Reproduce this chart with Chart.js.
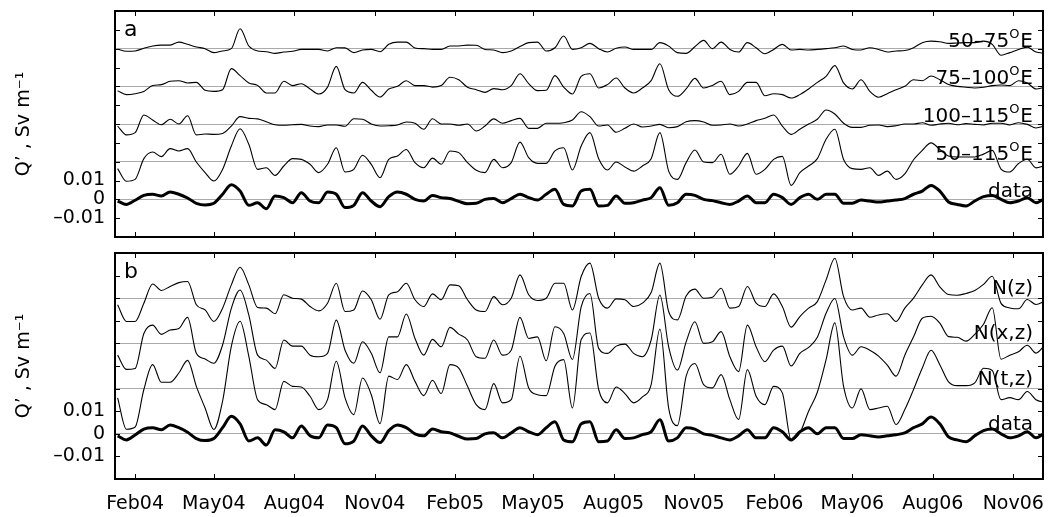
<!doctype html>
<html>
<head>
<meta charset="UTF-8">
<title>Q' anomalies 2004-2006</title>
<script src="https://cdn.jsdelivr.net/npm/chart.js@4.4.1/dist/chart.umd.min.js"></script>
<style>
  body { margin: 0; background: #fff; }
  #wrap { position: relative; width: 1052px; height: 517px; }
  canvas { position: absolute; left: 0; }
  #ca { top: 0; }
  #cb { top: 245px; }
</style>
</head>
<body>
<div id="wrap">
  <canvas id="ca" width="1052" height="245"></canvas>
  <canvas id="cb" width="1052" height="272"></canvas>
</div>
<script>
// sample dates: days since 1 Feb 2004, every 10 days
var startDay = -20, stepDays = 10, nSamples = 107;
var days = [];
for (var i = 0; i < nSamples; i++) days.push(startDay + i * stepDays);

// x axis ticks (days since 1 Feb 2004)
var tickDays = [0, 90, 182, 274, 366, 455, 547, 639, 731, 820, 912, 1004];
var tickLabels = ['Feb04', 'May04', 'Aug04', 'Nov04', 'Feb05', 'May05', 'Aug05', 'Nov05', 'Feb06', 'May06', 'Aug06', 'Nov06'];

// Q' in units of 1e-3 Sv/m
var qData = [-0.9,-2.7,-0.5,2.1,2.7,1.8,3.9,2.7,0.7,-2.1,-3.0,-2.1,2.7,7.8,4.4,-3.2,-1.8,-5.0,1.8,0.9,-1.8,3.5,-0.9,-1.8,3.9,2.7,-4.4,-3.2,3.5,-0.9,-3.9,1.4,3.9,2.7,0,-0.9,2.1,0.9,0.4,-1.1,-2.3,-2.1,0,0.5,-1.8,0.4,2.7,0.9,-0.4,2.7,5.3,-2.7,-3.5,4.4,5.3,-3.5,-3.2,1.8,-2.1,-1.8,-0.4,0.9,6.2,-3.2,-1.8,2.7,2.1,0,-0.7,-1.8,-2.7,-0.9,1.8,-1.8,-1.8,2.7,0.9,-2.7,0.9,2.7,0,2.7,2.7,-2.1,-2.1,-0.4,-0.9,-1.4,-0.9,-0.4,0.4,2.7,4.4,7.4,4.4,-1.4,-2.7,-3.5,-0.9,1.4,2.1,0,-1.8,-0.9,0.9,-1.8,0.4];

var q50to75 = [-0.3,-1.4,-1.2,0.2,1.4,1.9,1.9,3.5,2.3,0.9,0,-2.1,-1.2,0,10.6,1.4,-1.2,-1.6,-2.5,-1.8,-1.4,-0.4,-0.4,-0.4,-1.2,0.5,0.4,-2.1,-0.7,-0.4,-1.6,2.3,3.5,3.5,0.4,0,-0.4,-0.4,1.4,1.4,1.9,1.8,-0.4,-0.7,-2.1,-1.2,1.1,3.2,3.5,-1.2,0.5,6.7,-0.4,0.5,2.8,0,-1.8,0.2,0.9,-0.4,-0.4,-0.4,3.2,1.4,-2.1,-2.5,1.0,4.4,0,3.5,-0.4,-1.8,3.2,0.5,-2.7,-0.4,2.3,-0.7,-0.4,-0.7,-0.4,0,0.5,1.4,-0.4,-0.7,0.5,-0.4,-1.8,-1.2,-1.0,0.5,3.2,4.0,3.7,2.8,3.0,3.2,3.2,4.0,2.3,-3.5,-2.1,-0.4,0.8,-1.8,-2.5];

var q75to100 = [-2.3,-4.4,-3.9,-2.7,0.4,0.9,2.7,3.0,1.8,2.1,-2.1,-2.7,-1.8,9.4,5.7,1.8,0.5,-3.5,-3.5,2.7,0.4,1.4,-1.4,-4.1,-0.4,10.6,-1.8,-3.5,2.1,-2.1,-5.7,-1.4,0,3.0,0.4,0.4,-0.4,0.4,4.8,3.5,-0.5,-1.8,-3.2,-1.2,-1.8,0.4,6.7,1.4,-2.3,-2.1,5.7,-0.4,-4.1,5.3,6.7,-0.9,0.9,4.4,-0.9,-3.5,-0.9,3.0,12.0,-1.8,-5.3,-1.4,4.2,-0.9,0.5,2.7,-4.4,-2.7,2.1,2.1,-5.0,-3.9,-4.4,-6.2,-4.4,-1.4,2.1,5.3,11.0,1.8,-1.4,3.5,-2.7,-5.8,-3.9,-1.8,0,3.5,3.0,5.5,3.5,1.0,0,-0.5,-0.9,-0.5,0.4,0.7,0.4,3.0,1.8,-1.4,-0.5];

var q100to115 = [-1.1,-5.8,-4.6,4.8,2.1,-0.4,2.5,0,4.4,-5.8,-5.3,-5.5,-5.0,-1.1,3.9,3.0,2.7,1.2,-0.4,-0.7,-0.4,-0.2,-1.1,-1.4,-0.5,-0.5,-1.2,2.8,2.5,0,-1.1,-0.9,-0.5,1.1,0.4,-2.8,2.8,0,0,-0.7,0,-3.7,-1.1,2.7,0.4,1.8,3.0,-2.3,-2.3,0.4,0.4,0.7,2.1,6.5,3.9,-1.1,-0.5,-4.4,-2.3,0,-1.6,-1.1,-0.2,-2.0,-1.4,1.2,1.8,1.1,-0.7,-0.5,0,-1.1,0,1.8,3.0,4.8,-1.1,-5.5,-2.8,0,2.5,7.4,5.3,0.4,-1.8,-1.8,-0.7,-0.5,-1.4,-0.9,0,0,0.7,-0.7,0,0.4,-0.4,0.2,-0.2,-0.5,0.4,0.4,-0.5,0.7,-0.2,-2.1,-1.1];

var q50to115 = [-3.7,-10.4,-9.4,1.6,5.1,2.7,6.9,5.7,6.9,-0.2,-5.8,-10.3,-4.1,8.3,17.5,9.2,-4.1,-3.2,-7.3,-2.3,1.6,1.2,-1.4,-5.8,-1.4,7.4,-5.5,-4.1,3.4,-1.4,-8.5,1.2,3.0,6.5,-0.5,-3.2,1.9,-1.4,5.7,4.8,-0.5,-4.6,-5.8,1.2,-3.2,-0.5,10.4,2.1,-0.9,-0.9,5.7,7.4,-4.4,8.3,15.4,1.6,-4.4,-0.2,-2.8,-5.0,-2.3,1.6,15.4,-5.0,-9.4,-0.5,6.2,-0.2,-0.5,3.9,-6.7,-2.3,4.4,-6.7,-4.1,1.2,2.8,-12.6,-5.8,-2.3,1.6,11.9,17.2,1.2,-3.7,-4.1,-3.2,-7.3,-5.0,-9.4,-6.5,1.0,6.0,10.0,6.5,3.0,2.5,2.5,2.5,4.0,6.0,-3.9,-5.5,-1.0,1.3,-3.3,-2.0];

var qNz = [-2.9,-10.3,-10.3,-2.2,6.3,3.4,5.2,6.9,7.4,-2.9,-5.2,-10.3,-4.4,5.9,13.7,5.9,-4.1,-4.4,-6.9,1.5,0,-0.4,-3.7,-5.6,-2.2,6.6,-5.9,-5.2,3.2,-0.7,-9.3,1.5,2.9,6.6,-0.7,-3.7,1.9,-0.7,5.9,5.5,-0.7,-5.2,-5.9,0.7,-2.9,0,10.3,1.5,-1.0,0,6.6,6.6,-5.2,9.6,15.5,0,-4.4,-0.3,-0.7,-3.7,-2.2,2.5,15.5,-5.9,-9.6,1.0,4.0,0,0.4,4.4,-4.4,-3.7,5.2,-2.2,-3.7,1.9,-3.7,-12.8,-8.1,-4.4,-1.5,8.1,17.7,0.7,-5.2,-4.4,-8.4,-7.4,-6.9,-10.3,-4.4,0,5.9,10.3,5.0,1.6,1.3,2.1,3.4,6.1,9.7,-2.3,-4.3,-4.7,-0.6,-2.8,-1.3];

var qNxz = [-5.2,-11.5,-11.1,4.4,8.1,4.0,5.9,6.6,11.5,-4.4,-6.9,-8.8,-0.7,15.5,23.6,12.5,-5.2,-7.4,-11.1,1.5,-1.2,-1.2,-5.2,-5.9,-4.4,10.3,-3.0,-8.8,0.7,-4.4,-13.0,2.9,2.9,13.0,2.2,-5.2,1.8,-1.5,7.1,4.1,1.5,-5.9,-6.6,1.5,-5.2,-3.0,11.5,2.2,2.9,-7.7,7.4,4.4,-7.1,16.2,22.1,-2.2,-4.4,-1.2,-0.3,-4.4,-5.9,1.5,21.4,-1.5,-11.8,0.7,9.6,0,0.7,5.2,-5.9,-12.5,8.1,-1.5,-8.1,-3.0,-1.2,-10.0,-4.4,-1.8,2.7,13.3,19.9,2.9,-5.2,-1.5,-3.0,-5.6,-9.6,-14.5,-5.2,2.9,11.1,12.0,9.0,3.0,2.7,1.0,4.0,8.5,15.8,-7.0,-5.2,-3.7,-0.8,-4.3,-0.8];

var qNtz = [-4.1,-18.0,-17.0,-0.4,10.6,2.8,2.8,6.9,12.5,1.0,-8.6,-18.1,-5.6,18.7,29.8,14.3,-4.9,-7.1,-9.3,3.2,1.0,0.7,-3.4,-9.3,-4.9,12.1,-4.1,-11.5,4.7,-2.7,-15.5,5.5,4.0,10.6,3.2,-3.1,3.7,-2.2,10.6,9.1,1.0,-7.1,-9.3,2.2,-6.3,-4.9,14.3,0.3,-2.7,-3.1,9.9,12.8,-8.6,21.7,24.6,-0.4,-6.3,0.7,-2.2,-6.3,-3.7,1.8,26.4,-8.6,-16.4,5.5,11.1,1.8,0.3,6.2,-4.9,-13.7,8.4,-3.4,-7.1,1.0,-1.9,-22.6,-19.6,-10.0,-1.6,12.8,29.1,1.0,-8.6,-0.1,-9.3,-8.6,-7.8,-15.9,-9.3,-0.4,9.1,17.0,10.6,3.0,1.3,1.3,2.5,9.0,8.0,-4.9,-4.0,-4.9,-1.3,-4.9,-6.2];

var fontName = '"DejaVu Sans", sans-serif';

function points(arr, off) {
  return days.map(function (d, k) { return { x: d, y: arr[k] + off }; });
}

function makeSets(series, offsets, thick) {
  return series.map(function (s, k) {
    return {
      data: points(s, offsets[k]),
      borderColor: '#000',
      borderWidth: thick[k] ? 3 : 1.1,
      pointRadius: 0,
      cubicInterpolationMode: 'monotone',
      fill: false
    };
  });
}

// frame, inward ticks, panel letter and series names
var framePlugin = {
  id: 'frame',
  afterDraw: function (chart, args, opts) {
    var ctx = chart.ctx, a = chart.chartArea;
    var xs = chart.scales.x, ys = chart.scales.y;
    ctx.save();
    ctx.strokeStyle = '#000';
    ctx.lineWidth = 1;
    ctx.beginPath();
    tickDays.forEach(function (d) {
      var px = Math.round(xs.getPixelForValue(d)) + 0.5;
      ctx.moveTo(px, a.bottom); ctx.lineTo(px, a.bottom - 5);
      ctx.moveTo(px, a.top); ctx.lineTo(px, a.top + 5);
    });
    ys.ticks.forEach(function (t) {
      if (t.value <= ys.min || t.value >= ys.max) return;
      var py = Math.round(ys.getPixelForValue(t.value)) + 0.5;
      ctx.moveTo(a.left, py); ctx.lineTo(a.left + 5, py);
      ctx.moveTo(a.right, py); ctx.lineTo(a.right - 5, py);
    });
    ctx.stroke();
    ctx.lineWidth = 2;
    ctx.strokeRect(a.left, a.top, a.right - a.left, a.bottom - a.top);

    ctx.fillStyle = '#000';
    ctx.textBaseline = 'alphabetic';
    ctx.textAlign = 'left';
    ctx.font = '22px ' + fontName;
    ctx.fillText(opts.letter, a.left + 9, a.top + 25);

    opts.names.forEach(function (n, k) {
      var yb = ys.getPixelForValue(opts.offsets[k]) - opts.lift;
      var xr = a.right - 10;
      ctx.font = '20px ' + fontName;
      if (n.deg) {
        var wE = ctx.measureText('E').width;
        var wT = ctx.measureText(n.text).width;
        ctx.font = '13px ' + fontName;
        var wO = ctx.measureText('O').width;
        ctx.fillText('O', xr - wE - wO - 1, yb - 9);
        ctx.font = '20px ' + fontName;
        ctx.fillText('E', xr - wE, yb);
        ctx.fillText(n.text, xr - wE - wO - 1 - wT, yb);
      } else {
        ctx.textAlign = 'right';
        ctx.fillText(n.text, xr, yb);
        ctx.textAlign = 'left';
      }
    });
    ctx.restore();
  }
};

function yLabel(v) {
  if (v === 10) return '0.01';
  if (v === 0) return '0';
  if (v === -10) return '\u20130.01';
  return '';
}

function makeChart(id, opt) {
  return new Chart(document.getElementById(id).getContext('2d'), {
    type: 'line',
    data: { datasets: opt.sets },
    plugins: [framePlugin],
    options: {
      responsive: false,
      animation: false,
      devicePixelRatio: 1,
      layout: { padding: opt.padding },
      plugins: {
        legend: { display: false },
        tooltip: { enabled: false },
        frame: opt.frame
      },
      scales: {
        x: {
          type: 'linear',
          min: -23,
          max: 1038,
          display: opt.showX,
          grid: { display: false },
          border: { display: false },
          afterBuildTicks: function (s) {
            s.ticks = tickDays.map(function (v) { return { value: v }; });
          },
          afterFit: function (s) {
            if (opt.showX) s.height = 38;
          },
          ticks: {
            autoSkip: false,
            maxRotation: 0,
            padding: 6,
            color: '#000',
            font: { family: fontName, size: 19 },
            callback: function (v) { return tickLabels[tickDays.indexOf(v)]; }
          }
        },
        y: {
          min: -20,
          max: opt.yMax,
          afterFit: function (s) {
            s.width = 115;
            s.paddingTop = 0;
            s.paddingBottom = 0;
          },
          border: { display: false },
          grid: {
            drawTicks: false,
            lineWidth: 1,
            color: function (c) {
              return opt.frame.offsets.indexOf(c.tick.value) >= 0 ? '#aaaaaa' : 'rgba(0,0,0,0)';
            }
          },
          ticks: {
            stepSize: 10,
            autoSkip: false,
            padding: 10,
            color: '#000',
            font: { family: fontName, size: 19 },
            callback: yLabel
          },
          title: {
            display: true,
            text: 'Q\u2019 , Sv m\u207B\u00B9',
            color: '#000',
            font: { family: fontName, size: 19 },
            padding: { top: 13, bottom: 0 }
          }
        }
      }
    }
  });
}

var offsetsA = [80, 60, 40, 20, 0];
makeChart('ca', {
  sets: makeSets([q50to75, q75to100, q100to115, q50to115, qData], offsetsA, [0, 0, 0, 0, 1]),
  padding: { top: 11, bottom: 8, left: 0, right: 9 },
  showX: false,
  yMax: 100,
  frame: {
    letter: 'a',
    offsets: offsetsA,
    lift: 2,
    names: [
      { text: '50\u201375', deg: true },
      { text: '75\u2013100', deg: true },
      { text: '100\u2013115', deg: true },
      { text: '50\u2013115', deg: true },
      { text: 'data' }
    ]
  }
});

var offsetsB = [60, 40, 20, 0];
makeChart('cb', {
  sets: makeSets([qNz, qNxz, qNtz, qData], offsetsB, [0, 0, 0, 1]),
  padding: { top: 8, bottom: 0, left: 0, right: 9 },
  showX: true,
  yMax: 80,
  frame: {
    letter: 'b',
    offsets: offsetsB,
    lift: 4,
    names: [
      { text: 'N(z)' },
      { text: 'N(x,z)' },
      { text: 'N(t,z)' },
      { text: 'data' }
    ]
  }
});
</script>
</body>
</html>
